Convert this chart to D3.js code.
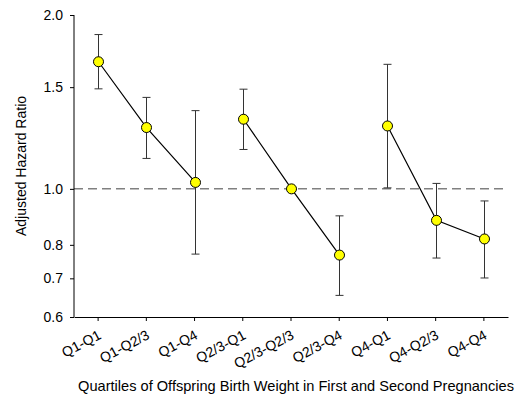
<!DOCTYPE html>
<html>
<head>
<meta charset="UTF-8">
<title>Adjusted Hazard Ratio by Birth Weight Quartiles</title>
<script src="https://d3js.org/d3.v7.min.js"></script>
<style>
  body { margin: 0; background: #fff; }
  text { font-family: Arial, "Liberation Sans", sans-serif; fill: #000; }
</style>
</head>
<body>
<svg id="chart" width="517" height="398"></svg>
<script>
// categories, grouped by first-pregnancy quartile
var categories = ["Q1-Q1", "Q1-Q2/3", "Q1-Q4", "Q2/3-Q1", "Q2/3-Q2/3", "Q2/3-Q4", "Q4-Q1", "Q4-Q2/3", "Q4-Q4"];
var groups = ["Q1", "Q1", "Q1", "Q2/3", "Q2/3", "Q2/3", "Q4", "Q4", "Q4"];
var hr    = [1.66, 1.277, 1.026, 1.32, 1.00, 0.768, 1.285, 0.882, 0.819];
var lower = [1.49, 1.129, 0.771, 1.17, null, 0.654, 1.004, 0.759, 0.701];
var upper = [1.85, 1.44, 1.366, 1.488, null, 0.898, 1.643, 1.022, 0.953];
var yTicks = [0.6, 0.7, 0.8, 1.0, 1.5, 2.0];

var svg = d3.select("#chart");
var xLeft = 74, xRight = 508, yTop = 15, yBot = 317;

var x = d3.scaleBand().domain(categories).range([xLeft, xRight]);
var y = d3.scaleLog().domain([0.6, 2.0]).range([yBot, yTop]);

var cx = function(i) { return Math.round(x(categories[i]) + x.bandwidth() / 2) + 0.5; };

// reference line at 1.0
svg.append("line")
  .attr("x1", xLeft).attr("x2", xRight)
  .attr("y1", y(1)).attr("y2", y(1))
  .attr("stroke", "#808080")
  .attr("stroke-width", 1.5)
  .attr("stroke-dasharray", "9,5");

// axes
var yAxis = d3.axisLeft(y).tickValues(yTicks).tickFormat(d3.format(".1f")).tickSize(4).tickPadding(7);
var gy = svg.append("g").attr("transform", "translate(" + xLeft + ",0)").call(yAxis);
gy.select(".domain").attr("d", "M0," + yTop + "V" + yBot);
gy.selectAll("text").style("font-size", "14px");

var xAxis = d3.axisBottom(x).tickSize(4).tickSizeOuter(0);
var gx = svg.append("g").attr("transform", "translate(0," + yBot + ")").call(xAxis);
gx.selectAll("text")
  .style("font-size", "14px")
  .attr("text-anchor", "end")
  .attr("dy", null)
  .attr("y", 0)
  .attr("transform", "translate(4,21) rotate(-28)");
svg.selectAll(".domain").attr("stroke", "#000");

// error bars
var idx = d3.range(categories.length).filter(function(i) { return lower[i] != null; });
var eb = svg.append("g").attr("stroke", "#333").attr("stroke-width", 1);
idx.forEach(function(i) {
  var px = cx(i);
  eb.append("line").attr("x1", px).attr("x2", px).attr("y1", y(upper[i])).attr("y2", y(lower[i]));
  eb.append("line").attr("x1", px - 4).attr("x2", px + 4).attr("y1", y(upper[i])).attr("y2", y(upper[i]));
  eb.append("line").attr("x1", px - 4).attr("x2", px + 4).attr("y1", y(lower[i])).attr("y2", y(lower[i]));
});

// connecting lines within each group
var line = d3.line().x(function(i) { return cx(i); }).y(function(i) { return y(hr[i]); });
d3.groups(d3.range(categories.length), function(i) { return groups[i]; }).forEach(function(g) {
  svg.append("path")
    .attr("d", line(g[1]))
    .attr("fill", "none")
    .attr("stroke", "#000")
    .attr("stroke-width", 1.2);
});

// points
svg.append("g").selectAll("circle")
  .data(d3.range(categories.length))
  .enter().append("circle")
    .attr("cx", function(i) { return cx(i); })
    .attr("cy", function(i) { return y(hr[i]); })
    .attr("r", 5)
    .attr("fill", "#ffff00")
    .attr("stroke", "#000")
    .attr("stroke-width", 1);

// axis titles
svg.append("text")
  .attr("transform", "translate(26," + ((yTop + yBot) / 2) + ") rotate(-90)")
  .attr("text-anchor", "middle")
  .style("font-size", "14px")
  .text("Adjusted Hazard Ratio");

svg.append("text")
  .attr("x", 296).attr("y", 391)
  .attr("text-anchor", "middle")
  .style("font-size", "14.6px")
  .text("Quartiles of Offspring Birth Weight in First and Second Pregnancies");
</script>
</body>
</html>
